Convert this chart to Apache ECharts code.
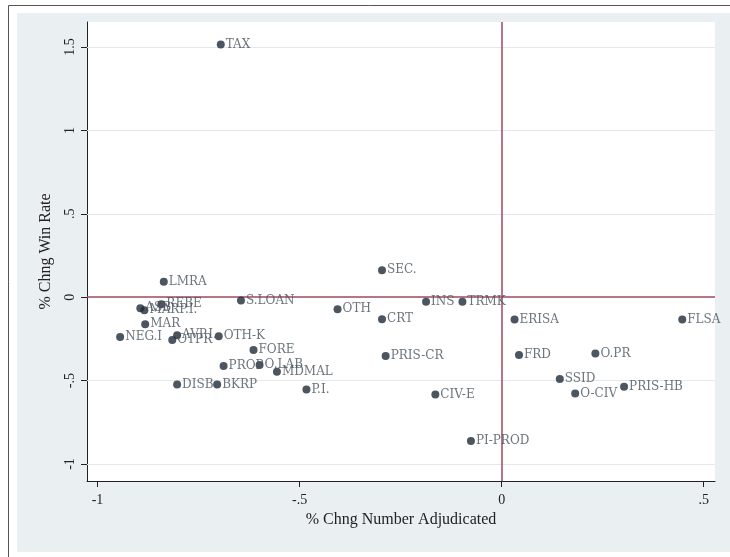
<!DOCTYPE html>
<html>
<head>
<meta charset="utf-8">
<script src="https://cdn.jsdelivr.net/npm/echarts@6/dist/echarts.min.js"></script>
<style>html,body{margin:0;padding:0;background:#fff}#c{width:730px;height:557px}</style>
</head>
<body>
<div id="c"></div>
<script>
// ---- data ----
const labels = ["TAX","LMRA","S.LOAN","SEC.","INS","TRMK","OTH","CRT","PRIS-CR","CIV-E","PI-PROD",
  "ERISA","FLSA","FRD","O.PR","SSID","O-CIV","PRIS-HB",
  "FORE","PROP","O.LAB","MDMAL","P.I.","DISB","BKRP",
  "NEG.I","AVP.I.","OTPR","OTH-K","MAR","ASB","MARP.I.","REBE"];
const xVals = [-0.695,-0.836,-0.645,-0.296,-0.187,-0.097,-0.406,-0.296,-0.287,-0.164,-0.076,
  0.032,0.447,0.043,0.232,0.144,0.182,0.303,
  -0.614,-0.688,-0.599,-0.556,-0.483,-0.803,-0.704,
  -0.944,-0.803,-0.815,-0.700,-0.882,-0.894,-0.884,-0.842];
const yVals = [1.515,0.092,-0.020,0.162,-0.028,-0.028,-0.072,-0.132,-0.353,-0.583,-0.862,
  -0.134,-0.134,-0.347,-0.337,-0.491,-0.577,-0.537,
  -0.317,-0.413,-0.407,-0.447,-0.553,-0.523,-0.523,
  -0.238,-0.228,-0.257,-0.234,-0.162,-0.066,-0.078,-0.042];
const xTicks = [-1,-0.5,0,0.5];
const yTicks = [-1,-0.5,0,0.5,1,1.5];
const xTitle = "% Chng Number Adjudicated";
const yTitle = "% Chng Win Rate";

const fmt = v => {
  if (Math.abs(v) < 1e-9) return '0';
  let s = String(Math.round(v*10)/10);
  return s.replace(/^(-?)0\./, '$1.');
};
const serif = "'Liberation Serif','DejaVu Serif',serif";
const wideSerif = "'DejaVu Serif','Liberation Serif',serif";
const pts = labels.map((l,i)=>({value:[xVals[i], yVals[i]], name:l}));

const chart = echarts.init(document.getElementById('c'), null, {renderer:'canvas'});
chart.setOption({
  animation:false,
  backgroundColor:'#ffffff',
  graphic:[
    {type:'rect', shape:{x:8.5,y:5.5,width:730,height:560}, style:{fill:'#ffffff', stroke:'#555', lineWidth:1}, z:-10},
    {type:'rect', shape:{x:17,y:13,width:713,height:539}, style:{fill:'#eaeff1'}, z:-9}
  ],
  grid:{left:87, right:15, top:22, bottom:76, show:true, backgroundColor:'#ffffff', borderWidth:0},
  xAxis:{
    type:'value', min:-1.026, max:0.528,
    axisLine:{show:true, onZero:false, lineStyle:{color:'#222', width:1}},
    axisTick:{show:true, length:6, customValues:xTicks, lineStyle:{color:'#222'}},
    axisLabel:{customValues:xTicks, formatter:fmt, margin:12, fontFamily:serif, fontSize:14, color:'#222'},
    splitLine:{show:false},
    name:xTitle, nameLocation:'middle', nameGap:29,
    nameTextStyle:{fontFamily:serif, fontSize:16, color:'#222'}
  },
  yAxis:{
    type:'value', min:-1.102, max:1.65,
    axisLine:{show:true, onZero:false, lineStyle:{color:'#222', width:1}},
    axisTick:{show:true, length:6, customValues:yTicks, lineStyle:{color:'#222'}},
    axisLabel:{customValues:yTicks, formatter:fmt, rotate:90, margin:10, fontFamily:serif, fontSize:14, color:'#222'},
    splitLine:{show:false},
    name:yTitle, nameLocation:'middle', nameGap:33, nameRotate:90,
    nameTextStyle:{fontFamily:serif, fontSize:16, color:'#222'}
  },
  series:[{
    type:'scatter',
    data:pts,
    symbol:'circle', symbolSize:8,
    itemStyle:{color:'#1e2c3a'},
    label:{show:true, position:'right', distance:1, formatter:p=>p.name,
      fontFamily:wideSerif, fontSize:12, color:'#46515b'},
    markLine:{
      silent:true, symbol:['none','none'], label:{show:false}, animation:false,
      z:1,
      data:[
        ...yTicks.filter(v=>v!==0).map(v=>({yAxis:v, lineStyle:{color:'#e3e8ea', width:1, type:'solid'}})),
        {yAxis:0, lineStyle:{color:'#9c4a5c', width:1.5, type:'solid'}},
        {xAxis:0, lineStyle:{color:'#9c4a5c', width:1.5, type:'solid'}}
      ]
    }
  }]
});
</script>
</body>
</html>
